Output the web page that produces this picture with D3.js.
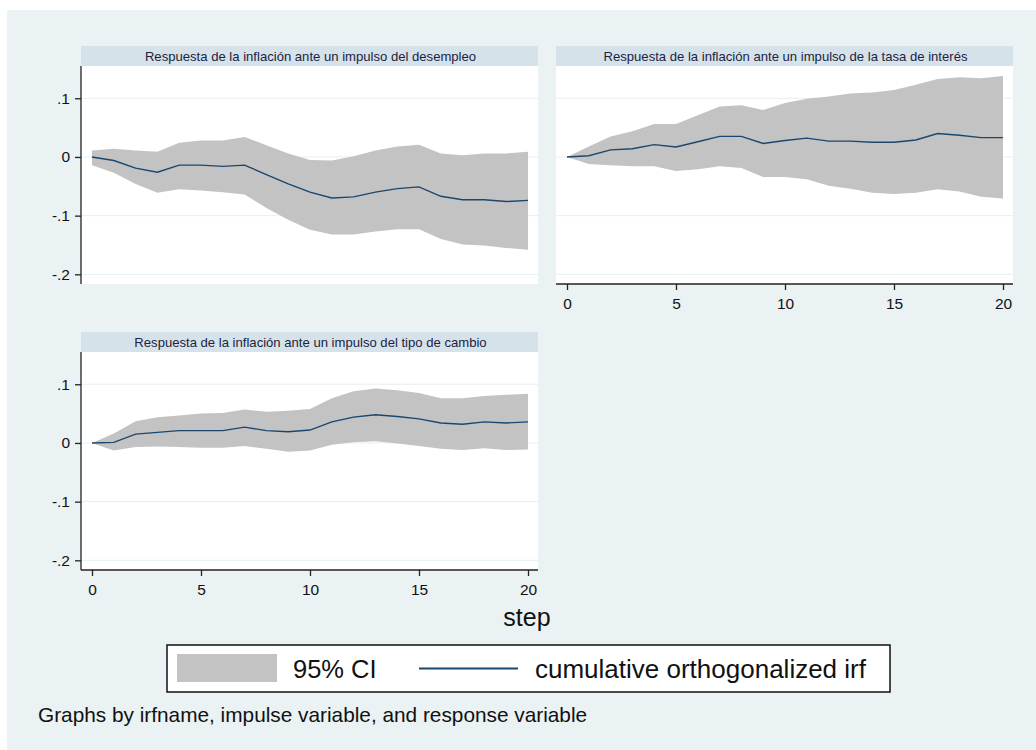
<!DOCTYPE html>
<html>
<head>
<meta charset="utf-8">
<script src="https://cdn.jsdelivr.net/npm/d3@7"></script>
<style>
  html, body { margin: 0; padding: 0; background: #ffffff; }
  svg { display: block; font-family: "Liberation Sans", Arial, sans-serif; }
</style>
</head>
<body>
<svg id="chart" width="1036" height="750"></svg>
<script>
// ---------- data ----------
const steps = d3.range(0, 21);
const yTicks = [0.1, 0, -0.1, -0.2];
const yTickLabels = [".1", "0", "-.1", "-.2"];
const xTicks = [0, 5, 10, 15, 20];

const panelTitles = [
  "Respuesta de la inflación ante un impulso del desempleo",
  "Respuesta de la inflación ante un impulso de la tasa de interés",
  "Respuesta de la inflación ante un impulso del tipo de cambio"
];

// impulse: desempleo
const irfDesempleo = [0, -0.006, -0.019, -0.026, -0.014, -0.014, -0.016, -0.014, -0.030, -0.046, -0.060, -0.070, -0.068, -0.060, -0.054, -0.051, -0.067, -0.073, -0.073, -0.076, -0.074];
const hiDesempleo  = [0.011, 0.014, 0.011, 0.009, 0.024, 0.028, 0.028, 0.034, 0.020, 0.006, -0.005, -0.006, 0.001, 0.011, 0.018, 0.021, 0.006, 0.003, 0.006, 0.006, 0.009];
const loDesempleo  = [-0.014, -0.027, -0.046, -0.061, -0.055, -0.057, -0.060, -0.064, -0.087, -0.107, -0.124, -0.132, -0.132, -0.127, -0.123, -0.123, -0.140, -0.149, -0.151, -0.155, -0.158];

// impulse: tasa de interés
const irfTasa = [0, 0.002, 0.012, 0.014, 0.021, 0.017, 0.026, 0.035, 0.035, 0.023, 0.028, 0.032, 0.027, 0.027, 0.025, 0.025, 0.029, 0.040, 0.037, 0.033, 0.033];
const hiTasa  = [0, 0.018, 0.035, 0.044, 0.056, 0.056, 0.071, 0.086, 0.088, 0.080, 0.092, 0.099, 0.103, 0.108, 0.110, 0.114, 0.123, 0.133, 0.136, 0.134, 0.138];
const loTasa  = [0, -0.012, -0.014, -0.016, -0.016, -0.024, -0.021, -0.016, -0.019, -0.034, -0.034, -0.038, -0.049, -0.054, -0.061, -0.063, -0.061, -0.055, -0.059, -0.068, -0.071];

// impulse: tipo de cambio
const irfCambio = [0, 0.001, 0.015, 0.018, 0.021, 0.021, 0.021, 0.027, 0.021, 0.019, 0.022, 0.036, 0.044, 0.048, 0.045, 0.041, 0.034, 0.032, 0.036, 0.034, 0.036];
const hiCambio  = [0, 0.016, 0.037, 0.044, 0.047, 0.050, 0.051, 0.057, 0.053, 0.055, 0.058, 0.076, 0.088, 0.093, 0.090, 0.085, 0.076, 0.076, 0.080, 0.082, 0.084];
const loCambio  = [0, -0.013, -0.007, -0.006, -0.007, -0.008, -0.008, -0.005, -0.010, -0.015, -0.013, -0.003, 0.001, 0.003, -0.001, -0.005, -0.010, -0.012, -0.009, -0.012, -0.011];

const legendLabels = ["95% CI", "cumulative orthogonalized irf"];
const xTitle = "step";
const note = "Graphs by irfname, impulse variable, and response variable";

// ---------- style ----------
const BG = "#eaf2f3";
const STRIP = "#d6e2ea";
const BAND = "#c3c3c3";
const LINE = "#1a476f";
const AXIS = "#222222";
const GRID = "#e6f0f2";

const svg = d3.select("#chart");
svg.append("rect").attr("x", 7).attr("y", 10).attr("width", 1029).attr("height", 740).attr("fill", BG);

const panels = [
  { title: panelTitles[0], irf: irfDesempleo, lo: loDesempleo, hi: hiDesempleo, x0: 81, x1: 538, top: 46, yAxis: true, xAxis: false },
  { title: panelTitles[1], irf: irfTasa, lo: loTasa, hi: hiTasa, x0: 556, x1: 1013, top: 46, yAxis: false, xAxis: true },
  { title: panelTitles[2], irf: irfCambio, lo: loCambio, hi: hiCambio, x0: 81, x1: 538, top: 332, yAxis: true, xAxis: true }
];

const stripH = 20, plotH = 218;
const yDomain = [-0.2165, 0.155];

panels.forEach(p => {
  const g = svg.append("g");
  const pTop = p.top + stripH, pBot = pTop + plotH;
  // strip
  g.append("rect").attr("x", p.x0).attr("y", p.top).attr("width", p.x1 - p.x0).attr("height", stripH).attr("fill", STRIP);
  g.append("text").attr("x", (p.x0 + p.x1) / 2 + 1).attr("y", p.top + 14.5)
    .attr("text-anchor", "middle").attr("font-size", 13.1).attr("fill", "#1c2340").text(p.title);
  // plot region
  g.append("rect").attr("x", p.x0).attr("y", pTop).attr("width", p.x1 - p.x0).attr("height", plotH).attr("fill", "#ffffff");

  const x = d3.scaleLinear().domain([0, 20]).range([p.x0 + 11, p.x1 - 10]);
  const y = d3.scaleLinear().domain(yDomain).range([pBot, pTop]);

  // grid
  g.selectAll(".grid").data(yTicks).enter().append("line")
    .attr("x1", p.x0).attr("x2", p.x1)
    .attr("y1", d => y(d)).attr("y2", d => y(d))
    .attr("stroke", GRID).attr("stroke-width", 1);

  // band
  const area = d3.area().x((d, i) => x(steps[i])).y0((d, i) => y(p.lo[i])).y1((d, i) => y(p.hi[i]));
  g.append("path").datum(p.irf).attr("d", area).attr("fill", BAND);

  // line
  const line = d3.line().x((d, i) => x(steps[i])).y(d => y(d));
  g.append("path").datum(p.irf).attr("d", line).attr("fill", "none").attr("stroke", LINE).attr("stroke-width", 1.4);

  if (p.yAxis) {
    const ya = g.append("g").attr("transform", `translate(${p.x0},0)`)
      .call(d3.axisLeft(y).tickValues(yTicks).tickFormat((d, i) => yTickLabels[i]).tickSize(6).tickPadding(5).tickSizeOuter(0));
    ya.select(".domain").attr("d", `M0,${pTop}V${pBot}`).attr("stroke", AXIS).attr("stroke-width", 1.3);
    ya.selectAll(".tick line").attr("stroke", AXIS).attr("stroke-width", 1.3);
    ya.selectAll(".tick text").attr("font-size", 15.5).attr("fill", "#111").attr("font-family", "Liberation Sans, Arial, sans-serif");
  }
  if (p.xAxis) {
    const xa = g.append("g").attr("transform", `translate(0,${pBot})`)
      .call(d3.axisBottom(x).tickValues(xTicks).tickFormat(d3.format("d")).tickSize(6).tickPadding(8).tickSizeOuter(0));
    xa.select(".domain").attr("d", `M${p.x0},0H${p.x1}`).attr("stroke", AXIS).attr("stroke-width", 1.3);
    xa.selectAll(".tick line").attr("stroke", AXIS).attr("stroke-width", 1.3);
    xa.selectAll(".tick text").attr("font-size", 15.5).attr("fill", "#111").attr("font-family", "Liberation Sans, Arial, sans-serif");
  }
});

// x title
svg.append("text").attr("x", 527).attr("y", 626).attr("text-anchor", "middle")
  .attr("font-size", 25).attr("fill", "#111").text(xTitle);

// legend
const lg = svg.append("g");
lg.append("rect").attr("x", 167).attr("y", 645).attr("width", 723).attr("height", 47)
  .attr("fill", "#ffffff").attr("stroke", "#111").attr("stroke-width", 1.5);
lg.append("rect").attr("x", 177).attr("y", 654).attr("width", 100).attr("height", 28).attr("fill", BAND);
lg.append("text").attr("x", 293).attr("y", 678).attr("font-size", 25.5).attr("fill", "#111").text(legendLabels[0]);
lg.append("line").attr("x1", 419).attr("x2", 518).attr("y1", 668.5).attr("y2", 668.5).attr("stroke", LINE).attr("stroke-width", 2);
lg.append("text").attr("x", 535).attr("y", 678).attr("font-size", 26).attr("fill", "#111").text(legendLabels[1]);

// note
svg.append("text").attr("x", 38).attr("y", 722).attr("font-size", 20.8).attr("fill", "#111").text(note);
</script>
</body>
</html>
